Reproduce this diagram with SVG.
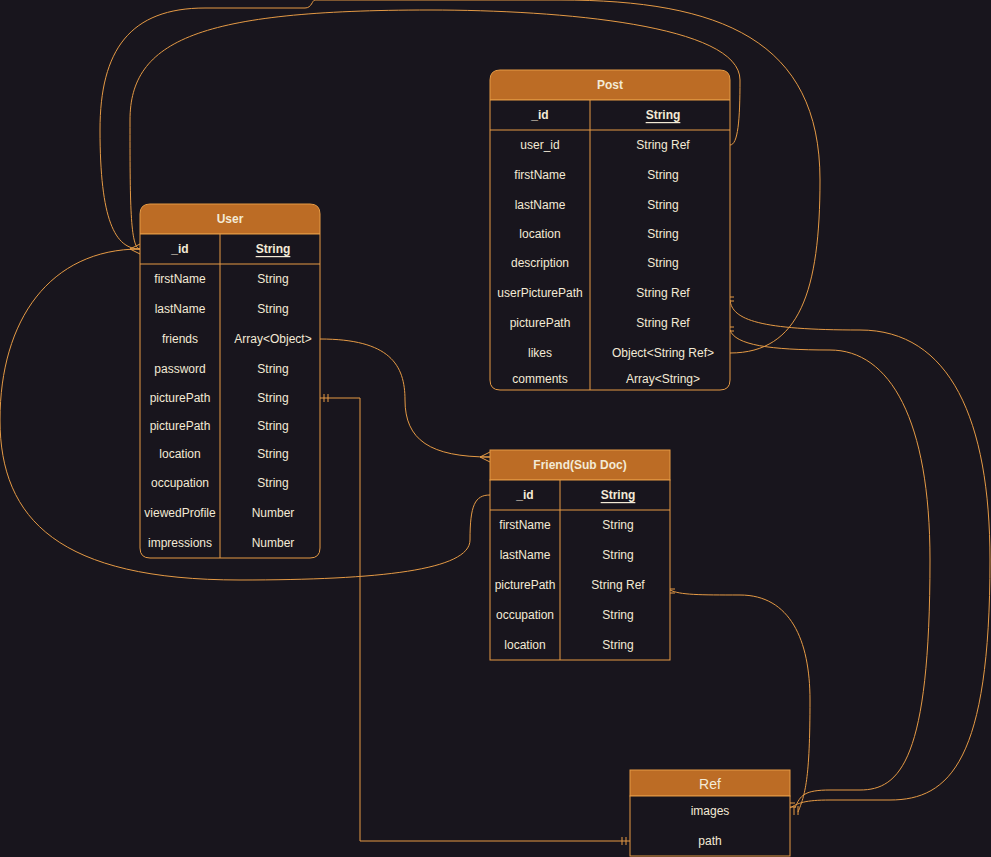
<svg xmlns="http://www.w3.org/2000/svg" width="991" height="857" viewBox="0 0 991 857">
<style>
.bg{fill:#18151d}
.box{fill:#18151d;stroke:#e59a45;stroke-width:1}
.hdr{fill:#bc6c25;stroke:#e59a45;stroke-width:1}
.ln{stroke:#e59a45;stroke-width:1;fill:none}
.c{stroke:#e59a45;stroke-width:1;fill:none}
text{font-family:"Liberation Sans",Arial,sans-serif;font-size:12px;fill:#f3ead6;text-anchor:middle;dominant-baseline:central}
.b{font-weight:bold}
.u{font-weight:bold;text-decoration:underline}
</style>
<rect class="bg" x="0" y="0" width="991" height="857"/>

<g id="connectors">
  <!-- friends -> Friend -->
  <path class="c" d="M320,339 C390,339 405,365 405,400 C405,440 430,457 490,457"/>
  <path class="c" d="M480,457 L490,452 M480,457 L490,462 M480,457 L490,457"/>
  <!-- picturePath -> Ref path -->
  <path class="c" d="M320,398 H360 V841 H630"/>
  <path class="c" d="M324,394 V402 M328,394 V402 M622,837 V845 M626,837 V845"/>
  <!-- Friend _id -> User _id -->
  <path class="c" d="M490,495 C475,495 470,505 470,540 C470,570 380,580 240,580 C60,580 0,520 0,420 C0,320 50,249 140,249"/>
  <!-- Post user_id -> User _id -->
  <path class="c" d="M730,145 C738,145 740,120 740,80 C740,25 560,10 430,10 C200,10 130,40 130,120 C130,200 130,249 140,249"/>
  <!-- Post likes -> User _id -->
  <path class="c" d="M730,353 C800,353 820,290 820,180 C820,40 720,0 560,0 H315 C312,0 312,8 305,8 H205 C130,8 100,50 100,130 C100,220 115,249 140,249"/>
  <path class="c" d="M130,249 L140,244 M130,249 L140,254 M130,249 L140,249"/>
  <!-- Post userPicturePath -> Ref -->
  <path class="c" d="M730,300 C732,320 760,330 860,330 C950,330 990,420 990,560 C990,760 950,800 890,800 H830 C805,800 798,803 790,808"/>
  <path class="c" d="M726,297 H734 M726,301 H734"/>
  <!-- Post picturePath -> Ref -->
  <path class="c" d="M730,330 C735,345 770,350 830,350 C890,350 930,420 930,560 C930,760 900,790 860,790 H830 C805,790 800,795 795,808"/>
  <path class="c" d="M726,327 H734 M726,331 H734"/>
  <!-- Friend picturePath -> Ref -->
  <path class="c" d="M670,590 C680,595 700,595 740,595 C790,595 810,640 810,700 C810,780 805,795 798,812"/>
  <path class="c" d="M666,589 H675 M666,593 H675"/>
  <path class="c" d="M786,803 H795 M786,807 H795 M794,806 V815 M798,806 V815"/>
</g>

<g id="user">
  <path class="hdr" d="M140,234 V214 Q140,204 150,204 H310 Q320,204 320,214 V234 Z"/>
  <path class="box" d="M140,234 H320 V548 Q320,558 310,558 H150 Q140,558 140,548 Z"/>
  <path class="ln" d="M140,264 H320 M220,234 V558"/>
  <text class="b" x="230" y="219">User</text>
  <text class="b" x="180" y="249">_id</text><text class="u" x="273" y="249">String</text>
  <text x="180" y="279">firstName</text><text x="273" y="279">String</text>
  <text x="180" y="309">lastName</text><text x="273" y="309">String</text>
  <text x="180" y="339">friends</text><text x="273" y="339">Array&lt;Object&gt;</text>
  <text x="180" y="369">password</text><text x="273" y="369">String</text>
  <text x="180" y="398">picturePath</text><text x="273" y="398">String</text>
  <text x="180" y="426">picturePath</text><text x="273" y="426">String</text>
  <text x="180" y="454">location</text><text x="273" y="454">String</text>
  <text x="180" y="483">occupation</text><text x="273" y="483">String</text>
  <text x="180" y="513">viewedProfile</text><text x="273" y="513">Number</text>
  <text x="180" y="543">impressions</text><text x="273" y="543">Number</text>
</g>

<g id="post">
  <path class="hdr" d="M490,100 V80 Q490,70 500,70 H720 Q730,70 730,80 V100 Z"/>
  <path class="box" d="M490,100 H730 V380 Q730,390 720,390 H500 Q490,390 490,380 Z"/>
  <path class="ln" d="M490,130 H730 M590,100 V390"/>
  <text class="b" x="610" y="85">Post</text>
  <text class="b" x="540" y="115">_id</text><text class="u" x="663" y="115">String</text>
  <text x="540" y="145">user_id</text><text x="663" y="145">String Ref</text>
  <text x="540" y="175">firstName</text><text x="663" y="175">String</text>
  <text x="540" y="205">lastName</text><text x="663" y="205">String</text>
  <text x="540" y="234">location</text><text x="663" y="234">String</text>
  <text x="540" y="263">description</text><text x="663" y="263">String</text>
  <text x="540" y="293">userPicturePath</text><text x="663" y="293">String Ref</text>
  <text x="540" y="323">picturePath</text><text x="663" y="323">String Ref</text>
  <text x="540" y="353">likes</text><text x="663" y="353">Object&lt;String Ref&gt;</text>
  <text x="540" y="379">comments</text><text x="663" y="379">Array&lt;String&gt;</text>
</g>

<g id="friend">
  <rect class="hdr" x="490" y="450" width="180" height="30"/>
  <rect class="box" x="490" y="480" width="180" height="180"/>
  <path class="ln" d="M490,510 H670 M560,480 V660"/>
  <text class="b" x="580" y="465">Friend(Sub Doc)</text>
  <text class="b" x="525" y="495">_id</text><text class="u" x="618" y="495">String</text>
  <text x="525" y="525">firstName</text><text x="618" y="525">String</text>
  <text x="525" y="555">lastName</text><text x="618" y="555">String</text>
  <text x="525" y="585">picturePath</text><text x="618" y="585">String Ref</text>
  <text x="525" y="615">occupation</text><text x="618" y="615">String</text>
  <text x="525" y="645">location</text><text x="618" y="645">String</text>
</g>

<g id="ref">
  <rect class="hdr" x="630" y="770" width="160" height="26"/>
  <rect class="box" x="630" y="796" width="160" height="60"/>
  <text x="710" y="784" style="font-size:14px">Ref</text>
  <text x="710" y="811">images</text>
  <text x="710" y="841">path</text>
</g>
</svg>
